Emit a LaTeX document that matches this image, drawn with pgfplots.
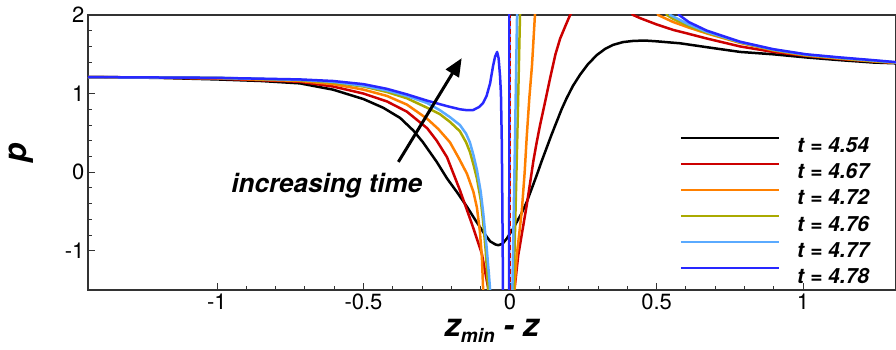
\documentclass[border=0pt]{standalone}
\usepackage{fontspec}
\setmainfont{TeX Gyre Heros}
\usepackage{pgfplots}
\pgfplotsset{compat=1.18}
\usetikzlibrary{arrows.meta}
\definecolor{cRed}{RGB}{204,0,0}
\definecolor{cOrange}{RGB}{255,128,0}
\definecolor{cOlive}{RGB}{170,170,0}
\definecolor{cLight}{RGB}{90,170,255}
\definecolor{cBlue}{RGB}{40,40,255}
\tikzset{crv/.style={line width=2.5pt, line join=round}}
\begin{document}
\begin{tikzpicture}
\begin{axis}[
  name=ax,
  scale only axis,
  width=808pt, height=275pt,
  xmin=-1.44, xmax=1.317, ymin=-1.5, ymax=2,
  xtick={-1,-0.5,0,0.5,1},
  ytick={-1,0,1,2},
  minor x tick num=4, minor y tick num=4,
  tick pos=left, tick align=inside,
  major tick length=7pt, minor tick length=4pt,
  every tick/.style={black!80, line width=0.9pt},
  axis line style={line width=1.6pt, black!80},
  /pgf/number format/assume math mode=true,
  ticklabel style={font=\fontsize{22}{26}\selectfont},
  xlabel={\bfseries\itshape z\raisebox{-6pt}{\fontsize{19}{19}\selectfont min} - z},
  xlabel style={at={(axis description cs:0.5,0)}, anchor=base, yshift=-47pt, font=\fontsize{32}{36}\selectfont},
  ylabel={\bfseries\itshape p},
  ylabel style={at={(axis description cs:-0.083,0.5)}, anchor=center, font=\fontsize{32}{36}\selectfont},
  legend style={draw=none, fill=none, at={(axis cs:0.568,0.48)}, anchor=north west,
    font=\bfseries\itshape\fontsize{21}{24}\selectfont,
    nodes={inner sep=0pt, text height=15pt, text depth=0pt},
    row sep=9.8pt,
    /tikz/every odd column/.append style={column sep=17pt}},
  legend cell align=left,
  legend image code/.code={\draw[#1] (0pt,7.5pt) -- (98pt,7.5pt);},
]
% t = 4.54
\addplot[black, crv] coordinates {
(-1.44,1.21) (-1.2,1.20) (-1.0,1.18) (-0.85,1.16) (-0.717,1.13) (-0.604,1.05) (-0.5,0.93)
(-0.433,0.82) (-0.375,0.69) (-0.33,0.53) (-0.297,0.38) (-0.25,0.13) (-0.215,-0.08) (-0.18,-0.26)
(-0.147,-0.44) (-0.12,-0.60) (-0.092,-0.76) (-0.068,-0.88) (-0.05,-0.92) (-0.04,-0.93)
(-0.025,-0.91) (-0.01,-0.84) (0.0,-0.78) (0.012,-0.71) (0.025,-0.62) (0.04,-0.52) (0.057,-0.38)
(0.074,-0.21) (0.091,-0.04) (0.108,0.14) (0.125,0.31) (0.142,0.48) (0.159,0.64) (0.176,0.80)
(0.193,0.94) (0.215,1.10) (0.239,1.24) (0.265,1.37) (0.296,1.49) (0.325,1.57) (0.352,1.62)
(0.385,1.655) (0.42,1.67) (0.46,1.675) (0.50,1.665) (0.58,1.64) (0.672,1.59) (0.785,1.53)
(0.898,1.50) (1.01,1.46) (1.126,1.425) (1.24,1.395) (1.317,1.385)
};
\addlegendentry{t = 4.54}
% t = 4.67
\addplot[cRed, crv] coordinates {
(-1.44,1.21) (-1.2,1.205) (-1.0,1.19) (-0.85,1.17) (-0.717,1.15) (-0.604,1.09) (-0.5,1.00)
(-0.42,0.90) (-0.352,0.77) (-0.283,0.56) (-0.25,0.40) (-0.215,0.19) (-0.171,-0.23) (-0.13,-0.66)
(-0.096,-1.04) (-0.075,-1.47) (-0.07,-1.6) (-0.05,-3) (0.0,-3) (0.01,-1.7) (0.015,-1.5)
(0.028,-1.06) (0.042,-0.75) (0.057,-0.42) (0.068,-0.15) (0.08,0.15) (0.091,0.38) (0.102,0.59)
(0.12,0.90) (0.137,1.20) (0.155,1.50) (0.171,1.70) (0.19,1.87) (0.205,2.0) (0.22,2.1)
(0.3,2.5) (0.4,2.1) (0.42,2.0) (0.444,1.96) (0.5,1.88) (0.557,1.81) (0.61,1.76) (0.672,1.70)
(0.785,1.60) (0.898,1.53) (1.01,1.48) (1.126,1.44) (1.24,1.41) (1.317,1.39)
};
\addlegendentry{t = 4.67}
% t = 4.72
\addplot[cOrange, crv] coordinates {
(-1.44,1.21) (-1.0,1.195) (-0.717,1.16) (-0.604,1.12) (-0.5,1.05) (-0.42,0.97) (-0.352,0.86)
(-0.283,0.68) (-0.245,0.55) (-0.205,0.38) (-0.175,0.18) (-0.147,-0.02) (-0.125,-0.25)
(-0.113,-0.45) (-0.103,-0.75) (-0.096,-1.08) (-0.092,-1.47) (-0.09,-1.6) (-0.05,-3) (0.0,-3)
(0.012,-1.6) (0.015,-1.5) (0.023,-1.06) (0.04,-0.5) (0.05,0.0) (0.057,0.45) (0.066,0.95)
(0.075,1.36) (0.085,2.0) (0.1,2.5) (0.3,3) (0.5,2.1) (0.505,2.0) (0.557,1.91) (0.61,1.84)
(0.672,1.765) (0.785,1.645) (0.898,1.55) (1.01,1.485) (1.126,1.445) (1.24,1.41) (1.317,1.392)
};
\addlegendentry{t = 4.72}
% t = 4.76
\addplot[cOlive, crv] coordinates {
(-1.44,1.21) (-1.0,1.20) (-0.717,1.17) (-0.604,1.14) (-0.5,1.09) (-0.42,1.02) (-0.352,0.94)
(-0.283,0.82) (-0.24,0.74) (-0.205,0.64) (-0.171,0.52) (-0.15,0.38) (-0.137,0.26) (-0.125,0.10)
(-0.113,-0.08) (-0.1,-0.35) (-0.092,-0.62) (-0.083,-1.0) (-0.077,-1.35) (-0.074,-1.5) (-0.07,-1.7)
(-0.04,-3) (0.0,-3) (0.01,-1.7) (0.012,-1.5) (0.02,-0.3) (0.027,0.8) (0.034,2.0) (0.04,2.3)
(0.3,3) (0.53,2.1) (0.535,2.0) (0.557,1.95) (0.61,1.86) (0.672,1.775) (0.785,1.65) (0.898,1.555)
(1.01,1.49) (1.126,1.45) (1.24,1.415) (1.317,1.395)
};
\addlegendentry{t = 4.76}
% t = 4.77
\addplot[cLight, crv] coordinates {
(-1.44,1.21) (-1.0,1.20) (-0.717,1.175) (-0.604,1.15) (-0.5,1.10) (-0.42,1.04) (-0.352,0.97)
(-0.283,0.88) (-0.24,0.79) (-0.205,0.70) (-0.171,0.60) (-0.15,0.49) (-0.137,0.38) (-0.125,0.22)
(-0.113,0.03) (-0.1,-0.25) (-0.092,-0.50) (-0.08,-0.95) (-0.072,-1.3) (-0.068,-1.5) (-0.06,-1.8)
(-0.04,-3) (0.0,-3) (0.005,-1.7) (0.008,-1.5) (0.016,0.2) (0.024,2.0) (0.03,2.5) (0.3,3)
(0.54,2.1) (0.546,2.0) (0.557,1.98) (0.61,1.88) (0.672,1.785) (0.785,1.655) (0.898,1.56)
(1.01,1.495) (1.126,1.455) (1.24,1.42) (1.317,1.397)
};
\addlegendentry{t = 4.77}
% t = 4.78
\addplot[cBlue, crv] coordinates {
(-1.44,1.21) (-1.0,1.20) (-0.717,1.18) (-0.604,1.16) (-0.5,1.12) (-0.42,1.06) (-0.352,0.99)
(-0.283,0.91) (-0.215,0.84) (-0.171,0.80) (-0.15,0.79) (-0.126,0.79) (-0.105,0.83) (-0.092,0.88)
(-0.08,0.97) (-0.068,1.13) (-0.058,1.35) (-0.051,1.47) (-0.044,1.53) (-0.039,1.45) (-0.034,1.22)
(-0.031,1.0) (-0.028,0.37) (-0.026,-0.5) (-0.024,-1.5) (-0.022,-2) (-0.015,-3) (-0.004,-3)
(-0.003,-1.5) (-0.002,2.0) (-0.001,3) (0.3,3.5) (0.57,2.1) (0.577,2.0) (0.61,1.91) (0.672,1.80)
(0.785,1.66) (0.898,1.565) (1.01,1.50) (1.126,1.46) (1.24,1.425) (1.317,1.40)
};
\addlegendentry{t = 4.78}
% x = 0 reference
\addplot[cRed, line width=1.4pt, dash pattern=on 5pt off 3pt, forget plot] coordinates {(0.002,-1.5) (0.002,2)};
\draw[line width=3pt, -{Triangle[length=18pt,width=15pt]}] (axis cs:-0.381,0.13) -- (axis cs:-0.165,1.45);
\node[font=\bfseries\itshape\fontsize{26}{30}\selectfont, anchor=base] at (axis cs:-0.625,-0.26) {increasing time};
\end{axis}
\pgfresetboundingbox
\path ([xshift=-88pt,yshift=-60pt]ax.south west) rectangle ([yshift=15pt]ax.north east);
\end{tikzpicture}
\end{document}
